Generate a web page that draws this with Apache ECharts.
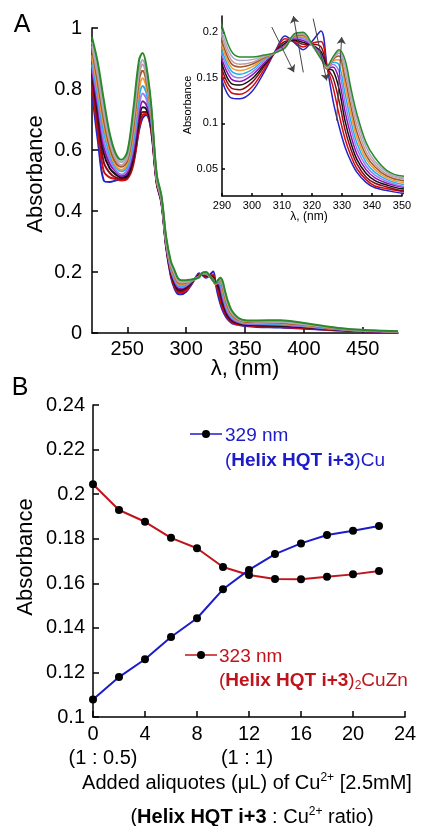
<!DOCTYPE html>
<html><head><meta charset="utf-8">
<script src="https://cdn.jsdelivr.net/npm/echarts@6/dist/echarts.min.js"></script>
<style>html,body{margin:0;padding:0;background:#fff}#c{width:425px;height:826px}</style>
</head><body><div id="c"></div>
<script>
// ---- Panel A: UV-vis spectra (wavelength grid, one array per titration step) ----
const wavelengths = [220,225,230,235,240,245,250,255,260,263,266,270,275,279,283,287,290,293,296,300,304,308,311,314,317,320,323,325,327,329,331,333,335,338,341,345,350,360,380,400,420,440,460,480];
const spec01 = [0.79,0.63,0.50,0.495,0.50,0.505,0.52,0.56,0.665,0.705,0.715,0.67,0.49,0.425,0.28,0.185,0.147,0.128,0.127,0.135,0.156,0.181,0.196,0.189,0.181,0.19,0.2015,0.163,0.125,0.097,0.074,0.058,0.046,0.035,0.029,0.026,0.023,0.02,0.018,0.014,0.01,0.007,0.005,0.004];
const spec02 = [0.81,0.66,0.53,0.51,0.505,0.50,0.505,0.55,0.67,0.715,0.718,0.675,0.49,0.427,0.283,0.19,0.153,0.134,0.132,0.14,0.159,0.18,0.193,0.19,0.184,0.188,0.19,0.163,0.14,0.11,0.083,0.064,0.05,0.038,0.031,0.028,0.025,0.022,0.02,0.016,0.011,0.007,0.005,0.004];
const spec03 = [0.83,0.69,0.56,0.525,0.51,0.505,0.51,0.56,0.685,0.725,0.725,0.68,0.495,0.43,0.286,0.195,0.159,0.139,0.137,0.145,0.162,0.18,0.19,0.191,0.187,0.187,0.184,0.162,0.15,0.125,0.093,0.071,0.055,0.041,0.034,0.03,0.026,0.024,0.022,0.018,0.012,0.008,0.005,0.004];
const spec04 = [0.85,0.72,0.59,0.54,0.52,0.51,0.515,0.575,0.70,0.74,0.735,0.69,0.495,0.432,0.289,0.20,0.165,0.144,0.142,0.149,0.164,0.179,0.188,0.192,0.189,0.186,0.179,0.161,0.158,0.138,0.103,0.078,0.06,0.045,0.037,0.032,0.028,0.026,0.024,0.02,0.013,0.008,0.006,0.004];
const spec05 = [0.86,0.74,0.61,0.555,0.53,0.515,0.525,0.59,0.72,0.76,0.75,0.70,0.50,0.434,0.292,0.204,0.170,0.149,0.146,0.153,0.166,0.179,0.186,0.193,0.191,0.186,0.176,0.16,0.162,0.148,0.113,0.086,0.066,0.049,0.04,0.034,0.03,0.028,0.026,0.021,0.014,0.009,0.006,0.005];
const spec06 = [0.88,0.76,0.63,0.57,0.535,0.52,0.535,0.61,0.745,0.785,0.77,0.71,0.50,0.436,0.295,0.208,0.175,0.154,0.150,0.156,0.168,0.179,0.185,0.194,0.193,0.186,0.174,0.16,0.165,0.157,0.123,0.094,0.072,0.053,0.043,0.036,0.031,0.03,0.028,0.022,0.015,0.009,0.006,0.005];
const spec07 = [0.90,0.78,0.66,0.585,0.545,0.53,0.545,0.63,0.775,0.81,0.79,0.72,0.505,0.438,0.298,0.212,0.180,0.158,0.154,0.159,0.17,0.178,0.184,0.195,0.195,0.186,0.173,0.16,0.167,0.164,0.133,0.102,0.078,0.057,0.046,0.038,0.033,0.032,0.03,0.024,0.016,0.01,0.007,0.005];
const spec08 = [0.91,0.80,0.68,0.60,0.55,0.535,0.555,0.65,0.80,0.835,0.81,0.73,0.505,0.44,0.301,0.216,0.185,0.162,0.158,0.162,0.171,0.178,0.184,0.196,0.196,0.186,0.172,0.16,0.169,0.17,0.142,0.11,0.084,0.061,0.049,0.04,0.035,0.034,0.032,0.025,0.017,0.01,0.007,0.005];
const spec09 = [0.93,0.82,0.70,0.61,0.56,0.545,0.565,0.67,0.83,0.86,0.83,0.74,0.51,0.442,0.304,0.22,0.190,0.166,0.162,0.165,0.172,0.178,0.183,0.196,0.197,0.186,0.172,0.16,0.17,0.174,0.15,0.118,0.09,0.065,0.052,0.042,0.037,0.036,0.034,0.027,0.018,0.011,0.007,0.005];
const spec10 = [0.94,0.84,0.72,0.625,0.57,0.55,0.575,0.69,0.85,0.88,0.845,0.745,0.51,0.444,0.307,0.224,0.195,0.170,0.165,0.167,0.173,0.178,0.183,0.197,0.198,0.186,0.171,0.161,0.171,0.177,0.157,0.125,0.097,0.069,0.055,0.044,0.039,0.037,0.036,0.028,0.019,0.011,0.007,0.005];
const spec11 = [0.955,0.86,0.74,0.64,0.58,0.56,0.585,0.71,0.865,0.895,0.86,0.75,0.515,0.446,0.31,0.228,0.200,0.175,0.169,0.17,0.174,0.178,0.183,0.197,0.199,0.186,0.171,0.162,0.172,0.179,0.164,0.132,0.104,0.074,0.058,0.046,0.04,0.039,0.038,0.03,0.02,0.012,0.008,0.006];
const spec12 = [0.97,0.885,0.765,0.655,0.59,0.568,0.594,0.73,0.895,0.918,0.88,0.76,0.52,0.45,0.315,0.235,0.207,0.180,0.173,0.173,0.175,0.178,0.183,0.198,0.20,0.187,0.171,0.163,0.173,0.181,0.17,0.138,0.11,0.079,0.062,0.048,0.042,0.041,0.042,0.033,0.021,0.012,0.008,0.006];
const specColors = ['#2323c8','#d01010','#8b0a1a','#111111','#9010b0','#9a7cf0','#20b0f0','#f59a30','#9a5a2a','#c89a9a','#a8a8c8','#2a8a2a'];
const mainXTicks = [250,300,350,400,450];
const insetYTicks = [0.05,0.1,0.15,0.2];
// inset arrows: [from λ, from A, to λ, to A]
const arrow1 = [306.6,0.2058,314,0.1562];
const arrow2 = [317.1,0.156,313.8,0.218];
const arrow3 = [320.4,0.2151,324.9,0.147];
const arrow4 = [328.2,0.103,329.9,0.1948];

// ---- Panel B: titration ----
const aliquots = [0,2,4,6,8,10,12,14,16,18,20,22];
const abs323 = [0.2044,0.1929,0.1876,0.1804,0.1757,0.1673,0.1637,0.1619,0.1618,0.1629,0.164,0.1655];
const abs329 = [0.1079,0.1179,0.1259,0.1359,0.1443,0.1573,0.166,0.1731,0.1779,0.1817,0.1836,0.1857];

const FONT = '"Liberation Sans", Arial, Helvetica, sans-serif';
const BLUE = '#1c1cc8', RED = '#c0141c';
const spectra = [spec01,spec02,spec03,spec04,spec05,spec06,spec07,spec08,spec09,spec10,spec11,spec12];

const chart = echarts.init(document.getElementById('c'), null, {renderer:'canvas'});

function axisCommon(fs, tickLen, margin){
  return {
    axisLine:{show:true,lineStyle:{color:'#000',width:1.5}},
    axisTick:{show:true,inside:true,length:tickLen,lineStyle:{color:'#000',width:1.5}},
    axisLabel:{color:'#000',fontSize:fs,fontFamily:FONT,margin:margin},
    splitLine:{show:false}
  };
}

const series = [];
spectra.forEach((s,i)=>{
  series.push({type:'line',xAxisIndex:0,yAxisIndex:0,data:wavelengths.map((w,j)=>[w,s[j]]),
    showSymbol:false,smooth:0.35,lineStyle:{width:2,color:specColors[i]},itemStyle:{color:specColors[i]},silent:true});
});
spectra.forEach((s,i)=>{
  series.push({type:'line',xAxisIndex:1,yAxisIndex:1,data:wavelengths.map((w,j)=>[w,s[j]]),
    showSymbol:false,smooth:0.35,clip:true,lineStyle:{width:1.5,color:specColors[i]},itemStyle:{color:specColors[i]},silent:true});
});
series.push({type:'line',xAxisIndex:1,yAxisIndex:1,data:[],clip:false,silent:true,
  markLine:{silent:true,symbol:['none','arrow'],symbolSize:7,label:{show:false},
    lineStyle:{color:'#444',width:1,type:'solid'},
    data:[arrow1,arrow2,arrow3,arrow4].map(a=>[{coord:[a[0],a[1]]},{coord:[a[2],a[3]]}])}});
series.push({type:'line',xAxisIndex:2,yAxisIndex:2,data:aliquots.map((x,i)=>[x,abs323[i]]),
  symbol:'circle',symbolSize:8,lineStyle:{color:RED,width:2},itemStyle:{color:'#000'},silent:true});
series.push({type:'line',xAxisIndex:2,yAxisIndex:2,data:aliquots.map((x,i)=>[x,abs329[i]]),
  symbol:'circle',symbolSize:8,lineStyle:{color:BLUE,width:2},itemStyle:{color:'#000'},silent:true});

const ax0 = axisCommon(20,6,6), ay0 = axisCommon(20,6,10);
const ax1 = axisCommon(11,3,4), ay1 = axisCommon(11,3,4);
const ax2 = axisCommon(20,6,7), ay2 = axisCommon(20,6,8);

function txt(x,y,text,opts){
  return {type:'text',x:x,y:y,style:Object.assign({text:text,fill:'#000',font:'20px '+FONT,align:'center',verticalAlign:'middle'},opts||{})};
}

const option = {
  animation:false,
  backgroundColor:'#fff',
  grid:[
    {left:92,right:27,top:28,bottom:493},
    {left:222,right:23,top:16,bottom:630},
    {left:93,right:20,top:405,bottom:109}
  ],
  xAxis:[
    Object.assign({},ax0,{gridIndex:0,type:'value',min:220,max:480,
      axisLabel:Object.assign({},ax0.axisLabel,{customValues:mainXTicks}),
      axisTick:Object.assign({},ax0.axisTick,{customValues:mainXTicks})}),
    Object.assign({},ax1,{gridIndex:1,type:'value',min:290,max:350,interval:10}),
    Object.assign({},ax2,{gridIndex:2,type:'value',min:0,max:24,interval:4})
  ],
  yAxis:[
    Object.assign({},ay0,{gridIndex:0,type:'value',min:0,max:1,interval:0.2}),
    Object.assign({},ay1,{gridIndex:1,type:'value',min:0.02,max:0.218,
      axisLabel:Object.assign({},ay1.axisLabel,{customValues:insetYTicks}),
      axisTick:Object.assign({},ay1.axisTick,{customValues:insetYTicks})}),
    Object.assign({},ay2,{gridIndex:2,type:'value',min:0.1,max:0.24,interval:0.02})
  ],
  series:series,
  graphic:[
    txt(22,25,'A',{font:'25px '+FONT}),
    txt(20,388,'B',{font:'25px '+FONT}),
    Object.assign(txt(36,174,'Absorbance',{font:'22px '+FONT}),{rotation:Math.PI/2}),
    txt(245,369,'λ, (nm)',{font:'22px '+FONT}),
    Object.assign(txt(188,105,'Absorbance',{font:'11px '+FONT}),{rotation:Math.PI/2}),
    txt(309,217,'λ, (nm)',{font:'12px '+FONT}),
    Object.assign(txt(26,557,'Absorbance',{font:'22px '+FONT}),{rotation:Math.PI/2}),
    // legend 329
    {type:'line',shape:{x1:190,y1:434,x2:222,y2:434},style:{stroke:BLUE,lineWidth:1.5}},
    {type:'circle',shape:{cx:206,cy:434,r:4},style:{fill:'#000'}},
    txt(225,436,'329 nm',{font:'19px '+FONT,fill:BLUE,align:'left'}),
    txt(225,461,'{n|(}{b|Helix HQT i+3}{n|)Cu}',{align:'left',rich:{
      n:{fontSize:19,fontFamily:FONT,fill:BLUE,color:BLUE},
      b:{fontSize:19,fontFamily:FONT,fontWeight:'bold',fill:BLUE,color:BLUE}}}),
    // legend 323
    {type:'line',shape:{x1:185,y1:655,x2:217,y2:655},style:{stroke:RED,lineWidth:1.5}},
    {type:'circle',shape:{cx:201,cy:655,r:4},style:{fill:'#000'}},
    txt(219,657,'323 nm',{font:'19px '+FONT,fill:RED,align:'left'}),
    txt(219,681,'{n|(}{b|Helix HQT i+3}{n|)}{s|2}{n|CuZn}',{align:'left',rich:{
      n:{fontSize:19,fontFamily:FONT,fill:RED,color:RED,lineHeight:22},
      b:{fontSize:19,fontFamily:FONT,fontWeight:'bold',fill:RED,color:RED,lineHeight:22},
      s:{fontSize:12,fontFamily:FONT,fill:RED,color:RED,verticalAlign:'bottom',lineHeight:12,padding:[12,0,0,0]}}}),
    // x-axis annotations
    txt(103,758,'(1 : 0.5)'),
    txt(247,758,'(1 : 1)'),
    txt(247,783,'{n|Added aliquotes (μL) of Cu}{p|2+}{n| [2.5mM]}',{rich:{
      n:{fontSize:20,fontFamily:FONT,fill:'#000',lineHeight:22},
      p:{fontSize:12,fontFamily:FONT,fill:'#000',verticalAlign:'top',lineHeight:12}}}),
    txt(252,817,'{n|(}{b|Helix HQT i+3}{n| : Cu}{p|2+}{n| ratio)}',{rich:{
      n:{fontSize:20,fontFamily:FONT,fill:'#000',lineHeight:22},
      b:{fontSize:20,fontFamily:FONT,fontWeight:'bold',fill:'#000',lineHeight:22},
      p:{fontSize:12,fontFamily:FONT,fill:'#000',verticalAlign:'top',lineHeight:12}}})
  ]
};
chart.setOption(option);
</script>
</body></html>
